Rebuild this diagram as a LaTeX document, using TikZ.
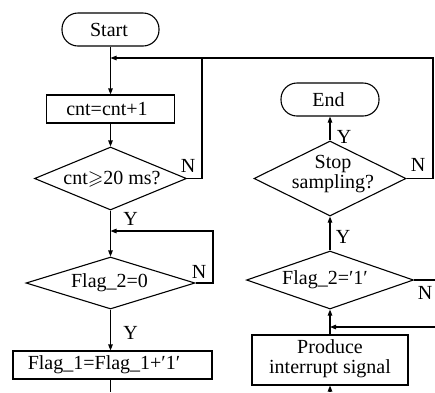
\documentclass[tikz,border=0pt]{standalone}
\usepackage{amssymb}
\usepackage{fontspec}
\setmainfont{Liberation Serif}
\usetikzlibrary{shapes.geometric,arrows.meta}

\begin{document}
\begin{tikzpicture}[x=1pt,y=-1pt,line width=1.1pt,
  font=\fontsize{20}{20}\selectfont,
  >={Triangle[length=6pt,width=4.5pt]},
  term/.style={draw,rounded corners=16pt,minimum width=97pt,minimum height=33pt,inner sep=0pt},
  proc/.style={draw,minimum height=28pt,inner sep=0pt},
  dec/.style={draw,diamond,inner sep=0pt},
  txt/.style={inner sep=0pt,align=center},
  yn/.style={inner sep=0pt}]
\useasboundingbox (0,0) rectangle (435,392);

% left column
\node[term] (start) at (110.5,29.5) {};
\node[txt] (startt) at (109,29.5) {Start};
\node[proc,minimum width=128pt] (inc) at (110.5,109) {};
\node[txt] (inct) at (107,109) {cnt=cnt+1};
\node[dec,minimum width=152pt,minimum height=63pt] (chk) at (110.5,178.5) {};
\node[txt] (chkt) at (112,179) {cnt$\geqslant$20 ms?};
\node[dec,minimum width=169pt,minimum height=52pt] (flagz) at (110.5,283) {};
\node[txt] (flagzt) at (109.5,283) {Flag\_2=0};
\node[proc,minimum width=199pt] (flagone) at (112.5,365) {};
\node[txt] (flagonet) at (104,365) {Flag\_1=Flag\_1+′1′};

% right column
\node[term,minimum width=98pt] (end) at (330,99.5) {};
\node[txt] (endt) at (328.5,99.5) {End};
\node[dec,minimum width=152pt,minimum height=75pt] (stop) at (330,178.5) {};
\node[txt] (stopt) at (333,174) {Stop\\sampling?};
\node[dec,minimum width=167pt,minimum height=58pt] (flagq) at (330,280) {};
\node[txt] (flagqt) at (325,280) {Flag\_2=′1′};
\node[proc,minimum width=156pt,minimum height=50pt] (prod) at (330,360) {};
\node[txt] (prodt) at (330,359) {Produce\\interrupt signal};

% junctions and open ends
\coordinate (top) at (110.5,58);
\coordinate (wait) at (110.5,231);
\coordinate (lo) at (110.5,392);
\coordinate (ro) at (330,392);
\coordinate (rin) at (435,327);
\coordinate (rjoin) at (330,327);
\coordinate (rout) at (435,280);

% connectors, left
\draw[->] (start) -- (inc);
\draw[->] (inc) -- (chk);
\draw[->] (chk.east) -- (202,178.5) |- (top);
\draw[->] (chk) -- (flagz);
\draw[->] (flagz.east) -- (213,283) |- (wait);
\draw[->] (flagz.south) -- (flagz.south |- flagone.north);
\draw (flagone.south -| lo) -- (lo);

% connectors, right
\draw[->] (ro) -- (prod);
\draw[->] (prod) -- (flagq);
\draw[->] (rin) -- (rjoin);
\draw[->] (flagq) -- (stop);
\draw (flagq.east) -- (rout);
\draw[->] (stop) -- (end);
\draw (stop.east) -- (433,178.5) |- (202,58);

% branch labels
\node[yn] (y1) at (130.5,219) {Y};
\node[yn] (n1) at (188,166) {N};
\node[yn] (n2) at (199,272) {N};
\node[yn] (y2) at (130.5,333) {Y};
\node[yn] (y3) at (344,137) {Y};
\node[yn] (n3) at (418,165) {N};
\node[yn] (y4) at (343,237) {Y};
\node[yn] (n4) at (425,293) {N};
\end{tikzpicture}
\end{document}
